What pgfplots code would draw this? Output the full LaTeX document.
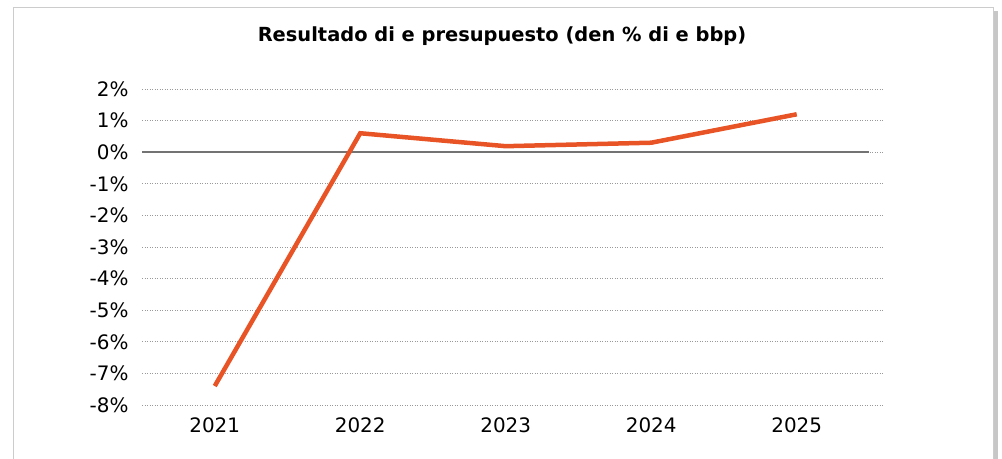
\documentclass[border=0pt]{standalone}
\usepackage{fontspec}
\setmainfont{DejaVu Sans}
\usepackage{pgfplots}
\pgfplotsset{compat=1.18}
\definecolor{lineorange}{RGB}{232,84,38}
\begin{document}
\begin{tikzpicture}
\useasboundingbox (0bp,0bp) rectangle (1002bp,459bp);
\fill[black!22] (994bp,0bp) rectangle (998bp,448bp);
\draw[black!20, line width=1bp] (13bp,-2bp) -- (13bp,451bp) -- (993bp,451bp) -- (993bp,-2bp);
\node[font=\bfseries\fontsize{19.5}{22}\selectfont] at (502bp,423bp) {Resultado di e presupuesto (den \% di e bbp)};
\begin{axis}[
  at={(142bp,54bp)}, anchor=south west,
  scale only axis, width=742bp, height=316bp,
  xmin=-0.5, xmax=4.6, ymin=-8, ymax=2,
  ytick={-8,-7,-6,-5,-4,-3,-2,-1,0,1,2},
  xtick={0,1,2,3,4},
  xticklabels={2021,2022,2023,2024,2025},
  axis line style={draw=none},
  major tick length=0pt,
  ymajorgrids,
  grid style={black!40, line width=0.8bp, dash pattern=on 1.2bp off 1.3bp},
  yticklabel={\pgfmathprintnumber{\tick}\%},
  /pgf/number format/assume math mode=true,
  tick label style={font=\fontsize{20}{22}\selectfont},
  yticklabel style={xshift=-10bp},
  xticklabel style={yshift=-9bp},
  clip=false,
]
\draw[black!55, line width=1.5bp] (axis cs:-0.5,0) -- (axis cs:4.5,0);
\addplot[lineorange, line width=4.5bp] coordinates {(0,-7.4) (1,0.6) (2,0.19) (3,0.3) (4,1.2)};
\end{axis}
\end{tikzpicture}
\end{document}
